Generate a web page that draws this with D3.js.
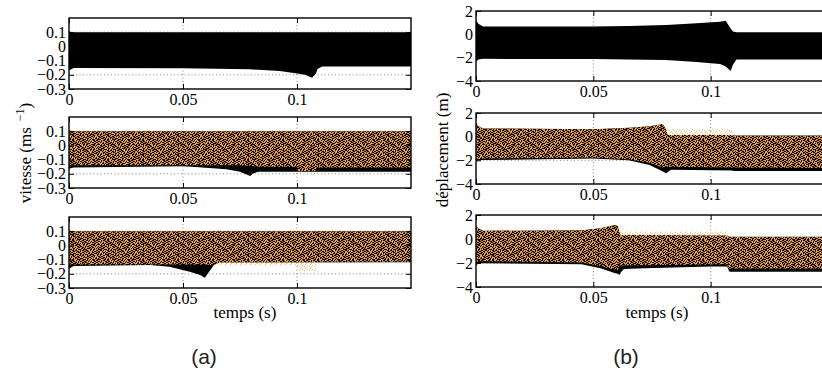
<!DOCTYPE html>
<html><head><meta charset="utf-8">
<script src="https://cdn.jsdelivr.net/npm/d3@7"></script>
<style>body{margin:0;background:#fff}svg{display:block}</style>
</head><body><svg id="c" width="822" height="372"></svg>
<script>
// ---------- data ----------
const xTicks = [0, 0.05, 0.1];
const xTickLabels = ["0", "0.05", "0.1"];
const vTicks = [-0.3, -0.2, -0.1, 0, 0.1];
const vTickLabels = ["\u22120.3", "\u22120.2", "\u22120.1", "0", "0.1"];
const dTicks = [-4, -2, 0, 2];
const dTickLabels = ["\u22124", "\u22122", "0", "2"];

// vitesse, panel 1 (black only)
const v1Time  = [0, 0.002, 0.05, 0.079, 0.0925, 0.1, 0.1035, 0.1066, 0.1083, 0.109, 0.111, 0.15];
const v1Upper = [0.105, 0.1, 0.1, 0.1, 0.1, 0.1, 0.1, 0.1, 0.1, 0.1, 0.1, 0.1];
const v1Lower = [-0.17, -0.152, -0.153, -0.161, -0.173, -0.19, -0.2, -0.22, -0.19, -0.16, -0.142, -0.142];
// vitesse, panel 2
const v2Time  = [0, 0.002, 0.05, 0.057, 0.069, 0.075, 0.0795, 0.0805, 0.083, 0.1, 0.15];
const v2Upper = [0.105, 0.1, 0.1, 0.1, 0.1, 0.1, 0.1, 0.1, 0.1, 0.1, 0.1];
const v2Lower = [-0.165, -0.155, -0.147, -0.154, -0.168, -0.185, -0.215, -0.2, -0.185, -0.185, -0.185];
const v2OrTime  = [0, 0.075, 0.085, 0.1, 0.1005, 0.108, 0.1085, 0.15];
const v2OrUpper = [0.1, 0.1, 0.1, 0.1, 0.1, 0.1, 0.1, 0.1];
const v2OrLower = [-0.14, -0.14, -0.15, -0.15, -0.18, -0.18, -0.155, -0.155];
// vitesse, panel 3
const v3Time  = [0, 0.002, 0.0355, 0.044, 0.053, 0.0575, 0.0596, 0.0612, 0.0635, 0.066, 0.15];
const v3Upper = [0.105, 0.1, 0.1, 0.1, 0.1, 0.1, 0.1, 0.1, 0.1, 0.1, 0.1];
const v3Lower = [-0.165, -0.145, -0.138, -0.15, -0.185, -0.208, -0.227, -0.19, -0.14, -0.12, -0.118];
const v3OrTime  = [0, 0.06, 0.062, 0.1, 0.1005, 0.108, 0.1085, 0.15];
const v3OrUpper = [0.1, 0.1, 0.1, 0.1, 0.1, 0.1, 0.1, 0.1];
const v3OrLower = [-0.135, -0.135, -0.14, -0.14, -0.18, -0.18, -0.115, -0.115];

// déplacement, panel 1 (black only)
const d1Time  = [0, 0.001, 0.003, 0.05, 0.065, 0.081, 0.094, 0.104, 0.1064, 0.1085, 0.1095, 0.111, 0.15];
const d1Upper = [1.2, 0.9, 0.68, 0.68, 0.72, 0.8, 0.95, 1.08, 1.17, 0.5, 0.25, 0.18, 0.18];
const d1Lower = [-2.35, -2.15, -2.1, -2.12, -2.15, -2.2, -2.37, -2.54, -2.75, -3.14, -2.6, -2.15, -2.15];
// déplacement, panel 2
const d2Time  = [0, 0.001, 0.003, 0.05, 0.065, 0.074, 0.0796, 0.081, 0.0817, 0.083, 0.109, 0.11, 0.15];
const d2Upper = [1.15, 0.9, 0.7, 0.62, 0.75, 0.88, 1.07, 0.6, 0.14, 0.14, 0.14, 0.1, 0.1];
const d2Lower = [-2.1, -2.0, -1.97, -1.85, -2.0, -2.4, -2.95, -3.1, -3.0, -2.8, -2.85, -2.9, -2.9];
const d2OrTime  = [0, 0.001, 0.003, 0.05, 0.065, 0.074, 0.0796, 0.081, 0.109, 0.1095, 0.15];
const d2OrUpper = [1.15, 0.9, 0.7, 0.62, 0.75, 0.88, 1.07, 0.62, 0.62, 0.1, 0.1];
const d2OrLower = [-1.95, -1.9, -1.85, -1.75, -1.9, -2.2, -2.6, -2.55, -2.6, -2.6, -2.65];
// déplacement, panel 3
const d3Time  = [0, 0.001, 0.003, 0.045, 0.053, 0.059, 0.0604, 0.0612, 0.0617, 0.063, 0.072, 0.1, 0.107, 0.108, 0.15];
const d3Upper = [1.08, 0.9, 0.69, 0.72, 0.89, 1.17, 1.08, 0.5, 0.33, 0.33, 0.33, 0.3, 0.3, 0.19, 0.19];
const d3Lower = [-2.2, -2.05, -2.03, -2.1, -2.44, -2.83, -2.9, -3.0, -2.8, -2.5, -2.44, -2.3, -2.3, -2.72, -2.72];
const d3OrTime  = [0, 0.001, 0.003, 0.045, 0.053, 0.059, 0.0604, 0.0612, 0.107, 0.1075, 0.15];
const d3OrUpper = [1.08, 0.9, 0.69, 0.72, 0.89, 1.17, 1.08, 0.62, 0.62, 0.19, 0.19];
const d3OrLower = [-1.9, -1.85, -1.85, -1.95, -2.25, -2.55, -2.6, -2.2, -2.1, -2.45, -2.45];

// ---------- drawing ----------
const zip = (t, up, lo) => t.map((d, i) => ({t: d, up: up[i], lo: lo[i]}));
const svg = d3.select("#c");
const defs = svg.append("defs");

function makePattern(id, w, h, cells, color) {
  const p = defs.append("pattern").attr("id", id).attr("width", w).attr("height", h)
    .attr("patternUnits", "userSpaceOnUse");
  cells.forEach(c => p.append("rect").attr("x", c[0]).attr("y", c[1]).attr("width", c[2]).attr("height", 1).attr("fill", color));
}
makePattern("orDense", 7, 5, [[0,0,2],[4,0,1],[2,1,1],[5,1,2],[0,2,1],[3,2,2],[1,3,2],[6,3,1],[4,4,2]], "#df8b24");
makePattern("orSparse", 5, 4, [[0,0,1],[2,1,1],[4,2,1],[1,3,1]], "#f4b566");

const SERIF = "'Liberation Serif','Times New Roman',serif";

const panels = [
  {id:"v1", x0:69, x1:411, y0:18,  y1:89,  dom:[-0.3,0.2], ticks:vTicks, labels:vTickLabels, black:zip(v1Time,v1Upper,v1Lower), orange:null},
  {id:"v2", x0:69, x1:411, y0:117, y1:188, dom:[-0.3,0.2], ticks:vTicks, labels:vTickLabels, black:zip(v2Time,v2Upper,v2Lower), orange:zip(v2OrTime,v2OrUpper,v2OrLower)},
  {id:"v3", x0:69, x1:411, y0:217, y1:288, dom:[-0.3,0.2], ticks:vTicks, labels:vTickLabels, black:zip(v3Time,v3Upper,v3Lower), orange:zip(v3OrTime,v3OrUpper,v3OrLower)},
  {id:"d1", x0:476, x1:828, y0:11,  y1:81,  dom:[-4,2], ticks:dTicks, labels:dTickLabels, black:zip(d1Time,d1Upper,d1Lower), orange:null},
  {id:"d2", x0:476, x1:828, y0:113, y1:184, dom:[-4,2], ticks:dTicks, labels:dTickLabels, black:zip(d2Time,d2Upper,d2Lower), orange:zip(d2OrTime,d2OrUpper,d2OrLower)},
  {id:"d3", x0:476, x1:828, y0:215, y1:287, dom:[-4,2], ticks:dTicks, labels:dTickLabels, black:zip(d3Time,d3Upper,d3Lower), orange:zip(d3OrTime,d3OrUpper,d3OrLower)}
];

panels.forEach(p => {
  const x = d3.scaleLinear().domain([0, 0.15]).range([p.x0, p.x1]);
  const y = d3.scaleLinear().domain(p.dom).range([p.y1, p.y0]);
  const g = svg.append("g");

  defs.append("clipPath").attr("id", "clip-" + p.id)
    .append("rect").attr("x", p.x0).attr("y", p.y0).attr("width", p.x1 - p.x0).attr("height", p.y1 - p.y0);

  // grid
  const grid = g.append("g").attr("stroke", "#666").attr("stroke-width", 0.8).attr("stroke-dasharray", "1,2.5");
  xTicks.filter(t => t > 0).forEach(t => grid.append("line").attr("x1", x(t)).attr("x2", x(t)).attr("y1", p.y0).attr("y2", p.y1));
  p.ticks.filter(t => t > p.dom[0] && t < p.dom[1]).forEach(t => grid.append("line").attr("x1", p.x0).attr("x2", p.x1).attr("y1", y(t)).attr("y2", y(t)));

  const area = d3.area().x(d => x(d.t)).y0(d => y(d.lo)).y1(d => y(d.up));
  const data = g.append("g").attr("clip-path", "url(#clip-" + p.id + ")");
  const blackD = area(p.black);
  data.append("path").attr("d", blackD).attr("fill", "#000");
  if (p.orange) {
    defs.append("clipPath").attr("id", "bclip-" + p.id).append("path").attr("d", blackD);
    const orD = area(p.orange);
    data.append("path").attr("d", orD).attr("fill", "url(#orSparse)");
    data.append("path").attr("d", orD).attr("fill", "url(#orDense)").attr("clip-path", "url(#bclip-" + p.id + ")");
  }

  // axes
  const ax = g.append("g").attr("font-family", SERIF);
  const left = ax.append("g").attr("transform", `translate(${p.x0},0)`)
    .call(d3.axisLeft(y).tickValues(p.ticks).tickFormat((d, i) => p.labels[i]).tickSizeInner(-5).tickSizeOuter(0).tickPadding(3));
  const right = ax.append("g").attr("transform", `translate(${p.x1},0)`)
    .call(d3.axisRight(y).tickValues(p.ticks).tickFormat("").tickSizeInner(-5).tickSizeOuter(0));
  const bottom = ax.append("g").attr("transform", `translate(0,${p.y1})`)
    .call(d3.axisBottom(x).tickValues(xTicks).tickFormat((d, i) => xTickLabels[i]).tickSizeInner(-5).tickSizeOuter(0).tickPadding(5));
  const top = ax.append("g").attr("transform", `translate(0,${p.y0})`)
    .call(d3.axisTop(x).tickValues(xTicks).tickFormat("").tickSizeInner(-5).tickSizeOuter(0));
  [left, right, bottom, top].forEach(a => {
    a.select(".domain").remove();
    a.attr("font-size", 16).attr("font-family", SERIF);
    a.selectAll("line").attr("stroke", "#000").attr("stroke-width", 1);
  });
  left.selectAll("text").attr("fill", "#000");
  bottom.selectAll("text").attr("fill", "#000");

  g.append("rect").attr("x", p.x0).attr("y", p.y0).attr("width", p.x1 - p.x0).attr("height", p.y1 - p.y0)
    .attr("fill", "none").attr("stroke", "#000").attr("stroke-width", 1.4);
});

// axis titles
const yl = svg.append("text").attr("transform", "translate(31,153) rotate(-90)")
  .attr("text-anchor", "middle").attr("font-family", SERIF).attr("font-size", 17).attr("fill", "#000");
yl.append("tspan").text("vitesse (ms");
yl.append("tspan").attr("dx", 6).attr("dy", -7).attr("font-size", 12).text("\u22121");
yl.append("tspan").attr("dy", 7).text(")");

svg.append("text").attr("transform", "translate(448,150) rotate(-90)")
  .attr("text-anchor", "middle").attr("font-family", SERIF).attr("font-size", 17).attr("fill", "#000")
  .text("déplacement (m)");

svg.append("text").attr("x", 245).attr("y", 318).attr("text-anchor", "middle")
  .attr("font-family", SERIF).attr("font-size", 17).attr("fill", "#000").text("temps (s)");
svg.append("text").attr("x", 657).attr("y", 318).attr("text-anchor", "middle")
  .attr("font-family", SERIF).attr("font-size", 17).attr("fill", "#000").text("temps (s)");

svg.append("text").attr("x", 204).attr("y", 364).attr("text-anchor", "middle")
  .attr("font-family", "'Liberation Sans',Arial,sans-serif").attr("font-size", 21).attr("fill", "#222").text("(a)");
svg.append("text").attr("x", 626).attr("y", 364).attr("text-anchor", "middle")
  .attr("font-family", "'Liberation Sans',Arial,sans-serif").attr("font-size", 21).attr("fill", "#222").text("(b)");
</script></body></html>
